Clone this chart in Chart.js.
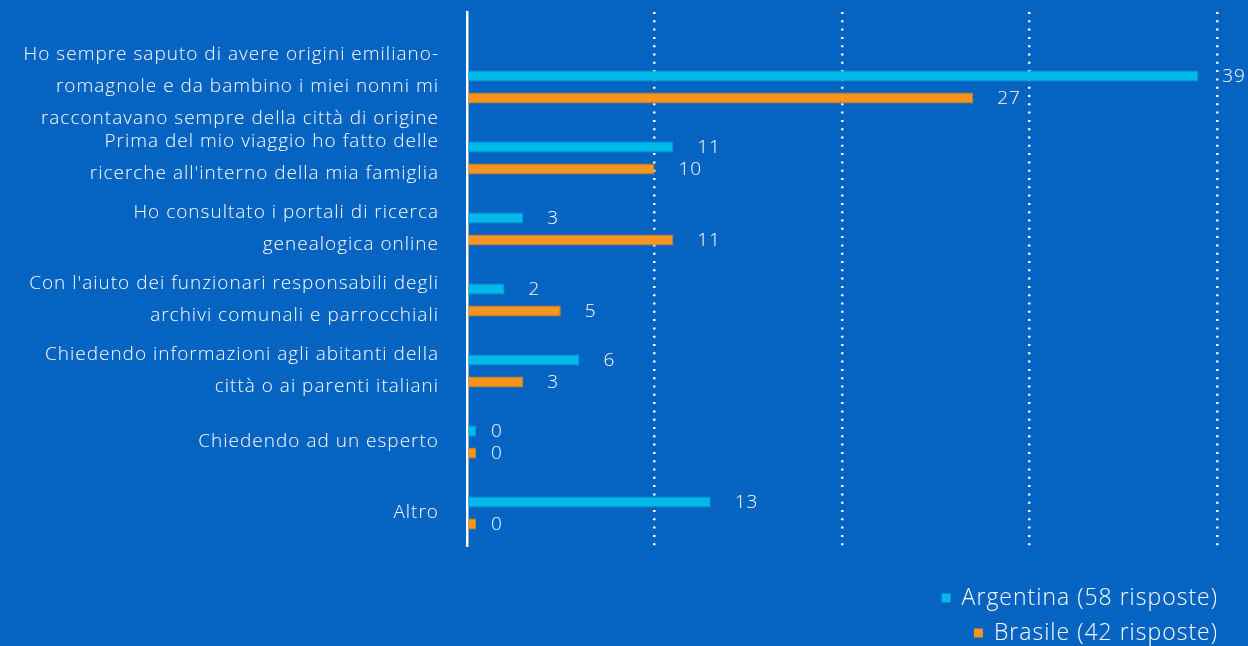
<!DOCTYPE html>
<html>
<head>
<meta charset="utf-8">
<script src="https://cdn.jsdelivr.net/npm/chart.js@4/dist/chart.umd.min.js"></script>
<style>
  html, body { margin: 0; padding: 0; background: #0563C1; }
  #wrap { width: 1248px; height: 646px; position: relative; }
</style>
</head>
<body>
<div id="wrap"><canvas id="c" width="1248" height="646"></canvas></div>
<script>
const categories = [
  ["Ho sempre saputo di avere origini emiliano-", "romagnole e da bambino i miei nonni mi", "raccontavano sempre della città di origine"],
  ["Prima del mio viaggio ho fatto delle", "ricerche all'interno della mia famiglia"],
  ["Ho consultato i portali di ricerca", "genealogica online"],
  ["Con l'aiuto dei funzionari responsabili degli", "archivi comunali e parrocchiali"],
  ["Chiedendo informazioni agli abitanti della", "città o ai parenti italiani"],
  "Chiedendo ad un esperto",
  "Altro"
];
const argentina = [39, 11, 3, 2, 6, 0, 13];
const brasile = [27, 10, 11, 5, 3, 0, 0];
const seriesLabels = ["Argentina (58 risposte)", "Brasile (42 risposte)"];
const xTicks = [0, 10, 20, 30, 40];

const FONT = "'Open Sans'";
const BG = "#0563C1";

const bgPlugin = {
  id: 'bg',
  beforeDraw(chart) {
    const ctx = chart.ctx;
    ctx.fillStyle = BG;
    ctx.fillRect(0, 0, chart.width, chart.height);
    ctx.letterSpacing = '1px';
  }
};

const valueLabels = {
  id: 'valueLabels',
  afterDatasetsDraw(chart) {
    const ctx = chart.ctx;
    const xs = chart.scales.x;
    ctx.save();
    ctx.fillStyle = '#ffffff';
    ctx.font = '300 19px ' + FONT;
    ctx.textAlign = 'left';
    ctx.textBaseline = 'middle';
    chart.data.datasets.forEach((ds, di) => {
      const meta = chart.getDatasetMeta(di);
      meta.data.forEach((el, i) => {
        const v = ds.data[i];
        const px = xs.getPixelForValue(v) + 24;
        ctx.fillText(String(v), px, el.y + 1);
      });
    });
    ctx.restore();
  }
};

const customLegend = {
  id: 'customLegend',
  afterDraw(chart) {
    const ctx = chart.ctx;
    const right = chart.chartArea.right + 1;
    const ys = [598, 633];
    ctx.save();
    ctx.font = '300 23px ' + FONT;
    ctx.textBaseline = 'middle';
    ctx.textAlign = 'right';
    chart.data.datasets.forEach((ds, i) => {
      const y = ys[i];
      const w = ctx.measureText(ds.label).width;
      ctx.fillStyle = '#ffffff';
      ctx.fillText(ds.label, right, y);
      ctx.fillStyle = ds.backgroundColor;
      ctx.fillRect(right - w - 20, y - 4.5, 9, 9);
    });
    ctx.restore();
  }
};

new Chart(document.getElementById('c'), {
  type: 'bar',
  data: {
    labels: categories,
    datasets: [
      { label: seriesLabels[0], data: argentina, backgroundColor: '#00B9E8', borderColor: '#0A9AD6', borderWidth: 1, minBarLength: 9,
        categoryPercentage: 0.62, barPercentage: 0.5 },
      { label: seriesLabels[1], data: brasile, backgroundColor: '#F7941D', borderColor: '#D9801A', borderWidth: 1, minBarLength: 9,
        categoryPercentage: 0.62, barPercentage: 0.5 }
    ]
  },
  options: {
    indexAxis: 'y',
    responsive: false,
    animation: false,
    devicePixelRatio: 1,
    layout: { autoPadding: false, padding: { top: 12, right: 31, bottom: 100, left: 0 } },
    plugins: {
      legend: { display: false },
      tooltip: { enabled: false }
    },
    scales: {
      x: {
        min: 0, max: 40,
        afterBuildTicks(scale) { scale.ticks = xTicks.map(v => ({ value: v })); },
        ticks: { display: false },
        border: { display: false, dash: [2, 6.3] },
        grid: {
          drawTicks: false,
          color: (ctx) => ctx.tick && ctx.tick.value === 0 ? 'rgba(0,0,0,0)' : '#ffffff',
          lineWidth: 2.5,
        },
        afterFit(scale) { scale.height = 0; scale.paddingLeft = 0; scale.paddingRight = 0; }
      },
      y: {
        afterBuildTicks(scale) {
          // leave extra room above the first category (its label has three lines)
          scale._startValue = -1.056;
          scale._valueRange = 7.52;
        },
        afterFit(scale) { scale.width = 467; scale.paddingTop = 0; scale.paddingBottom = 0; },
        grid: { display: false, drawTicks: false },
        border: { display: true, color: '#ffffff', width: 2.5 },
        ticks: {
          color: '#ffffff',
          padding: 28,
          font: { family: FONT, size: 19, weight: '300', lineHeight: 1.68 },
          autoSkip: false
        }
      }
    }
  },
  plugins: [bgPlugin, valueLabels, customLegend]
});
</script>
</body>
</html>
